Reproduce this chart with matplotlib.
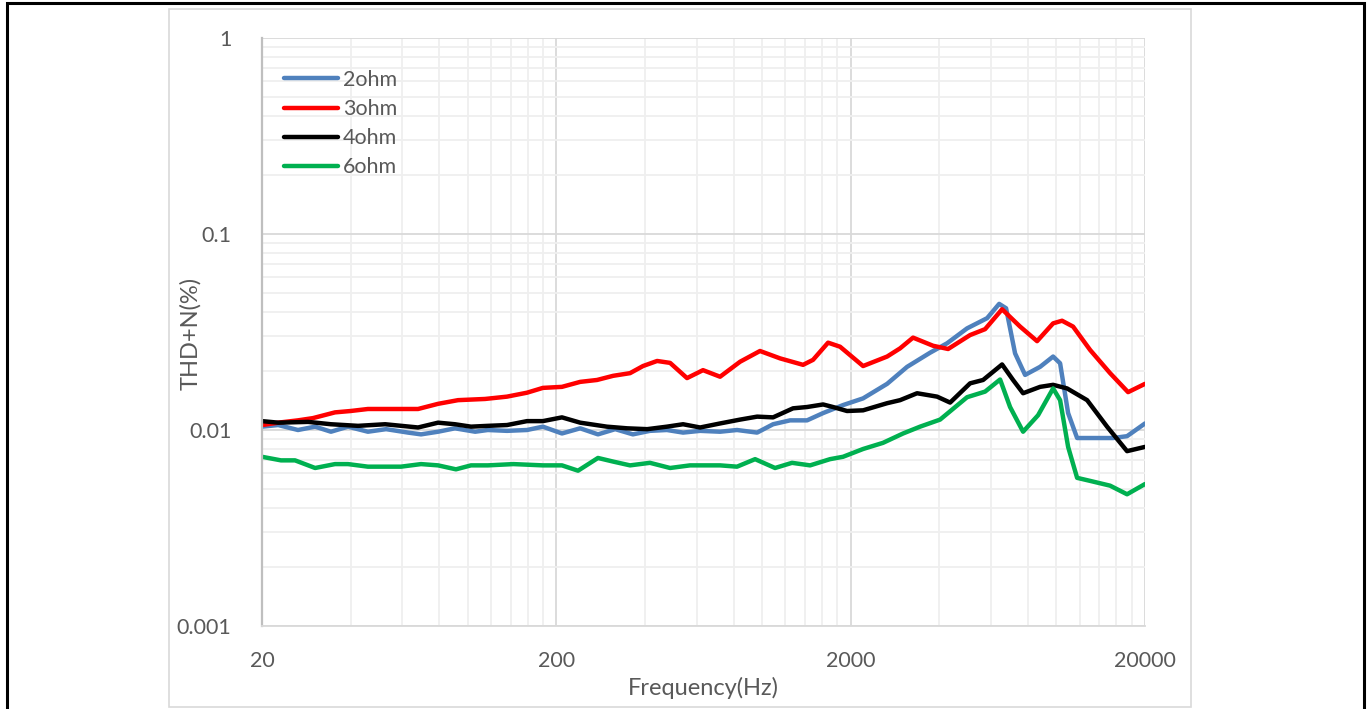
import matplotlib.pyplot as plt
from matplotlib.patches import Rectangle
from matplotlib.ticker import FixedLocator, NullFormatter

# THD+N sweeps per load (freq in Hz, THD+N in %)
freq_2ohm = [20, 22.7, 26.5, 30.3, 34.3, 39.2, 45.8, 52.8, 62.7, 69.4, 79.3, 90.5, 106, 117,
             136, 159, 180, 209, 241, 277, 317, 364, 416, 475, 539, 616, 720, 822, 962, 1090,
             1245, 1422, 1612, 1884, 2204, 2660, 3110, 3724, 4252, 4972, 5816, 6390, 6746,
             7238, 7828, 8802, 9746, 10294, 10960, 11760, 13020, 15580, 17380, 20000]
thd_2ohm = [0.0104, 0.0106, 0.0100, 0.0104, 0.0098, 0.0104, 0.0098, 0.0101, 0.0097, 0.0095,
            0.0098, 0.0102, 0.0098, 0.0100, 0.0099, 0.0100, 0.0104, 0.0096, 0.0102, 0.0095,
            0.0101, 0.0095, 0.0099, 0.0100, 0.0097, 0.0099, 0.0098, 0.0100, 0.0097, 0.0107,
            0.0112, 0.0112, 0.0122, 0.0134, 0.0145, 0.0172, 0.0210, 0.0248, 0.0277, 0.0330,
            0.0372, 0.0440, 0.0418, 0.0246, 0.0191, 0.0210, 0.0237, 0.0219, 0.0122, 0.0091,
            0.0091, 0.0091, 0.0093, 0.0108]

freq_3ohm = [20, 22.7, 26.5, 29.8, 35.4, 40, 45.8, 58, 67.8, 79.3, 92.7, 114.5, 136, 159,
             180, 209, 241, 275, 312, 356, 394, 440, 487, 556, 630, 720, 842, 984, 1151, 1378,
             1490, 1676, 1841, 2204, 2660, 2944, 3258, 3811, 4286, 5090, 5725, 6538, 7528,
             8598, 9746, 10452, 11394, 13020, 15220, 17520, 20000]
thd_3ohm = [0.0106, 0.0109, 0.0112, 0.0115, 0.0123, 0.0125, 0.0128, 0.0128, 0.0128, 0.0136,
            0.0142, 0.0144, 0.0148, 0.0155, 0.0164, 0.0166, 0.0176, 0.0180, 0.0189, 0.0195,
            0.0212, 0.0225, 0.0220, 0.0184, 0.0202, 0.0187, 0.0223, 0.0253, 0.0232, 0.0215,
            0.0228, 0.0279, 0.0266, 0.0212, 0.0237, 0.0261, 0.0296, 0.0269, 0.0259, 0.0305,
            0.0327, 0.0413, 0.0337, 0.0284, 0.0350, 0.0361, 0.0337, 0.0256, 0.0195, 0.0156,
            0.0172]

freq_4ohm = [20, 22.7, 28.7, 34.3, 42.4, 52.4, 67.8, 79.3, 90.5, 102.6, 117, 136, 159, 180,
             209, 241, 297, 348, 407, 475, 539, 616, 720, 842, 962, 1090, 1274, 1422, 1612,
             1742, 1944, 2204, 2660, 2944, 3362, 3932, 4354, 5090, 5636, 6538, 7124, 7706,
             8802, 9746, 10870, 12716, 14866, 17380, 20000]
thd_4ohm = [0.0111, 0.0109, 0.0110, 0.0107, 0.0105, 0.0107, 0.0103, 0.0109, 0.0107, 0.0104,
            0.0105, 0.0106, 0.0111, 0.0111, 0.0116, 0.0109, 0.0104, 0.0102, 0.0101, 0.0104,
            0.0107, 0.0103, 0.0108, 0.0113, 0.0117, 0.0116, 0.0129, 0.0131, 0.0135, 0.0131,
            0.0125, 0.0126, 0.0137, 0.0142, 0.0154, 0.0148, 0.0138, 0.0173, 0.0180, 0.0216,
            0.0180, 0.0154, 0.0166, 0.0170, 0.0163, 0.0142, 0.0104, 0.0078, 0.0082]

freq_6ohm = [20, 23.2, 25.9, 30.3, 35.4, 39.2, 45.8, 59.3, 69.4, 79.3, 91.2, 102.6, 117, 143,
             180, 209, 237, 277, 312, 356, 416, 487, 569, 666, 720, 822, 947, 1107, 1264, 1456,
             1702, 1884, 2204, 2576, 3014, 3442, 4026, 4972, 5725, 6438, 6960, 7706, 8666,
             9746, 10294, 10960, 11760, 13020, 15220, 17380, 20000]
thd_6ohm = [0.0073, 0.0070, 0.0070, 0.0064, 0.0067, 0.0067, 0.0065, 0.0065, 0.0067, 0.0066,
            0.0063, 0.0066, 0.0066, 0.0067, 0.0066, 0.0066, 0.0062, 0.0072, 0.0069, 0.0066,
            0.0068, 0.0064, 0.0066, 0.0066, 0.0066, 0.0065, 0.0071, 0.0064, 0.0068, 0.0066,
            0.0071, 0.0073, 0.0080, 0.0086, 0.0096, 0.0104, 0.0113, 0.0147, 0.0157, 0.0181,
            0.0131, 0.0098, 0.0119, 0.0163, 0.0142, 0.0082, 0.0057, 0.0055, 0.0052, 0.0047,
            0.0053]

series = [
    ("2ohm", freq_2ohm, thd_2ohm, "#4F81BD"),
    ("3ohm", freq_3ohm, thd_3ohm, "#FF0000"),
    ("4ohm", freq_4ohm, thd_4ohm, "#000000"),
    ("6ohm", freq_6ohm, thd_6ohm, "#00B050"),
]

x_ticks = [20, 200, 2000, 20000]
y_ticks = [0.001, 0.01, 0.1, 1]
y_tick_labels = ["0.001", "0.01", "0.1", "1"]

plt.rcParams['font.family'] = ['Lato', 'DejaVu Sans']
text_color = "#595959"

fig = plt.figure(figsize=(13.7, 7.09), dpi=100)
W, H = 1370, 709

# outer black frame and the light chart-area border
fig.patches.append(Rectangle((7 / W, -0.02), (1364 - 7) / W, 1.02 - 3 / H,
                             transform=fig.transFigure, fill=False,
                             edgecolor="black", linewidth=2.2))
fig.patches.append(Rectangle((169 / W, 2 / H), (1191 - 169) / W, (700 - 2) / H,
                             transform=fig.transFigure, fill=False,
                             edgecolor="#d9d9d9", linewidth=1.2))

ax = fig.add_axes([262 / W, (H - 626) / H, (1145 - 262) / W, (626 - 38) / H])
ax.set_xscale("log")
ax.set_yscale("log")
ax.set_xlim(20, 20000)
ax.set_ylim(0.001, 1)

ax.xaxis.set_major_locator(FixedLocator(x_ticks))
ax.set_xticklabels([str(t) for t in x_ticks])
x_minor = [k * 20 * 10 ** n for n in range(3) for k in range(2, 10)]
ax.xaxis.set_minor_locator(FixedLocator(x_minor))
ax.xaxis.set_minor_formatter(NullFormatter())

ax.yaxis.set_major_locator(FixedLocator(y_ticks))
ax.set_yticklabels(y_tick_labels)
y_minor = [k * 10.0 ** n for n in range(-3, 0) for k in range(2, 10)]
ax.yaxis.set_minor_locator(FixedLocator(y_minor))
ax.yaxis.set_minor_formatter(NullFormatter())

ax.grid(which="major", color="#d9d9d9", linewidth=1.3)
ax.grid(which="minor", color="#efefef", linewidth=1.3)
ax.set_axisbelow(True)

ax.tick_params(which="both", length=0, labelsize=15.5, labelcolor=text_color)
ax.tick_params(axis="x", pad=18)
ax.tick_params(axis="y", pad=22)

for side in ("top", "right"):
    ax.spines[side].set_visible(False)
ax.spines["left"].set_color("#bfbfbf")
ax.spines["left"].set_linewidth(1.6)
ax.spines["bottom"].set_color("#d9d9d9")
ax.spines["bottom"].set_linewidth(1.3)

for name, f, v, c in series:
    ax.plot(f, v, color=c, linewidth=3.2, label=name,
            solid_joinstyle="round", solid_capstyle="round")

leg = ax.legend(loc="upper left", bbox_to_anchor=(22 / 883, (626 - 70) / 588),
                frameon=False, fontsize=15.5, handlelength=2.5, handletextpad=0.25,
                labelspacing=0.42, borderpad=0, borderaxespad=0)
for t in leg.get_texts():
    t.set_color(text_color)

fig.text(703 / W, 1 - 688 / H, "Frequency(Hz)", ha="center", va="center",
         fontsize=17, color=text_color)
fig.text(190 / W, 1 - 333 / H, "THD+N(%)", ha="center", va="center",
         rotation=90, fontsize=17, color=text_color)

fig.savefig("out.png", dpi=100)
